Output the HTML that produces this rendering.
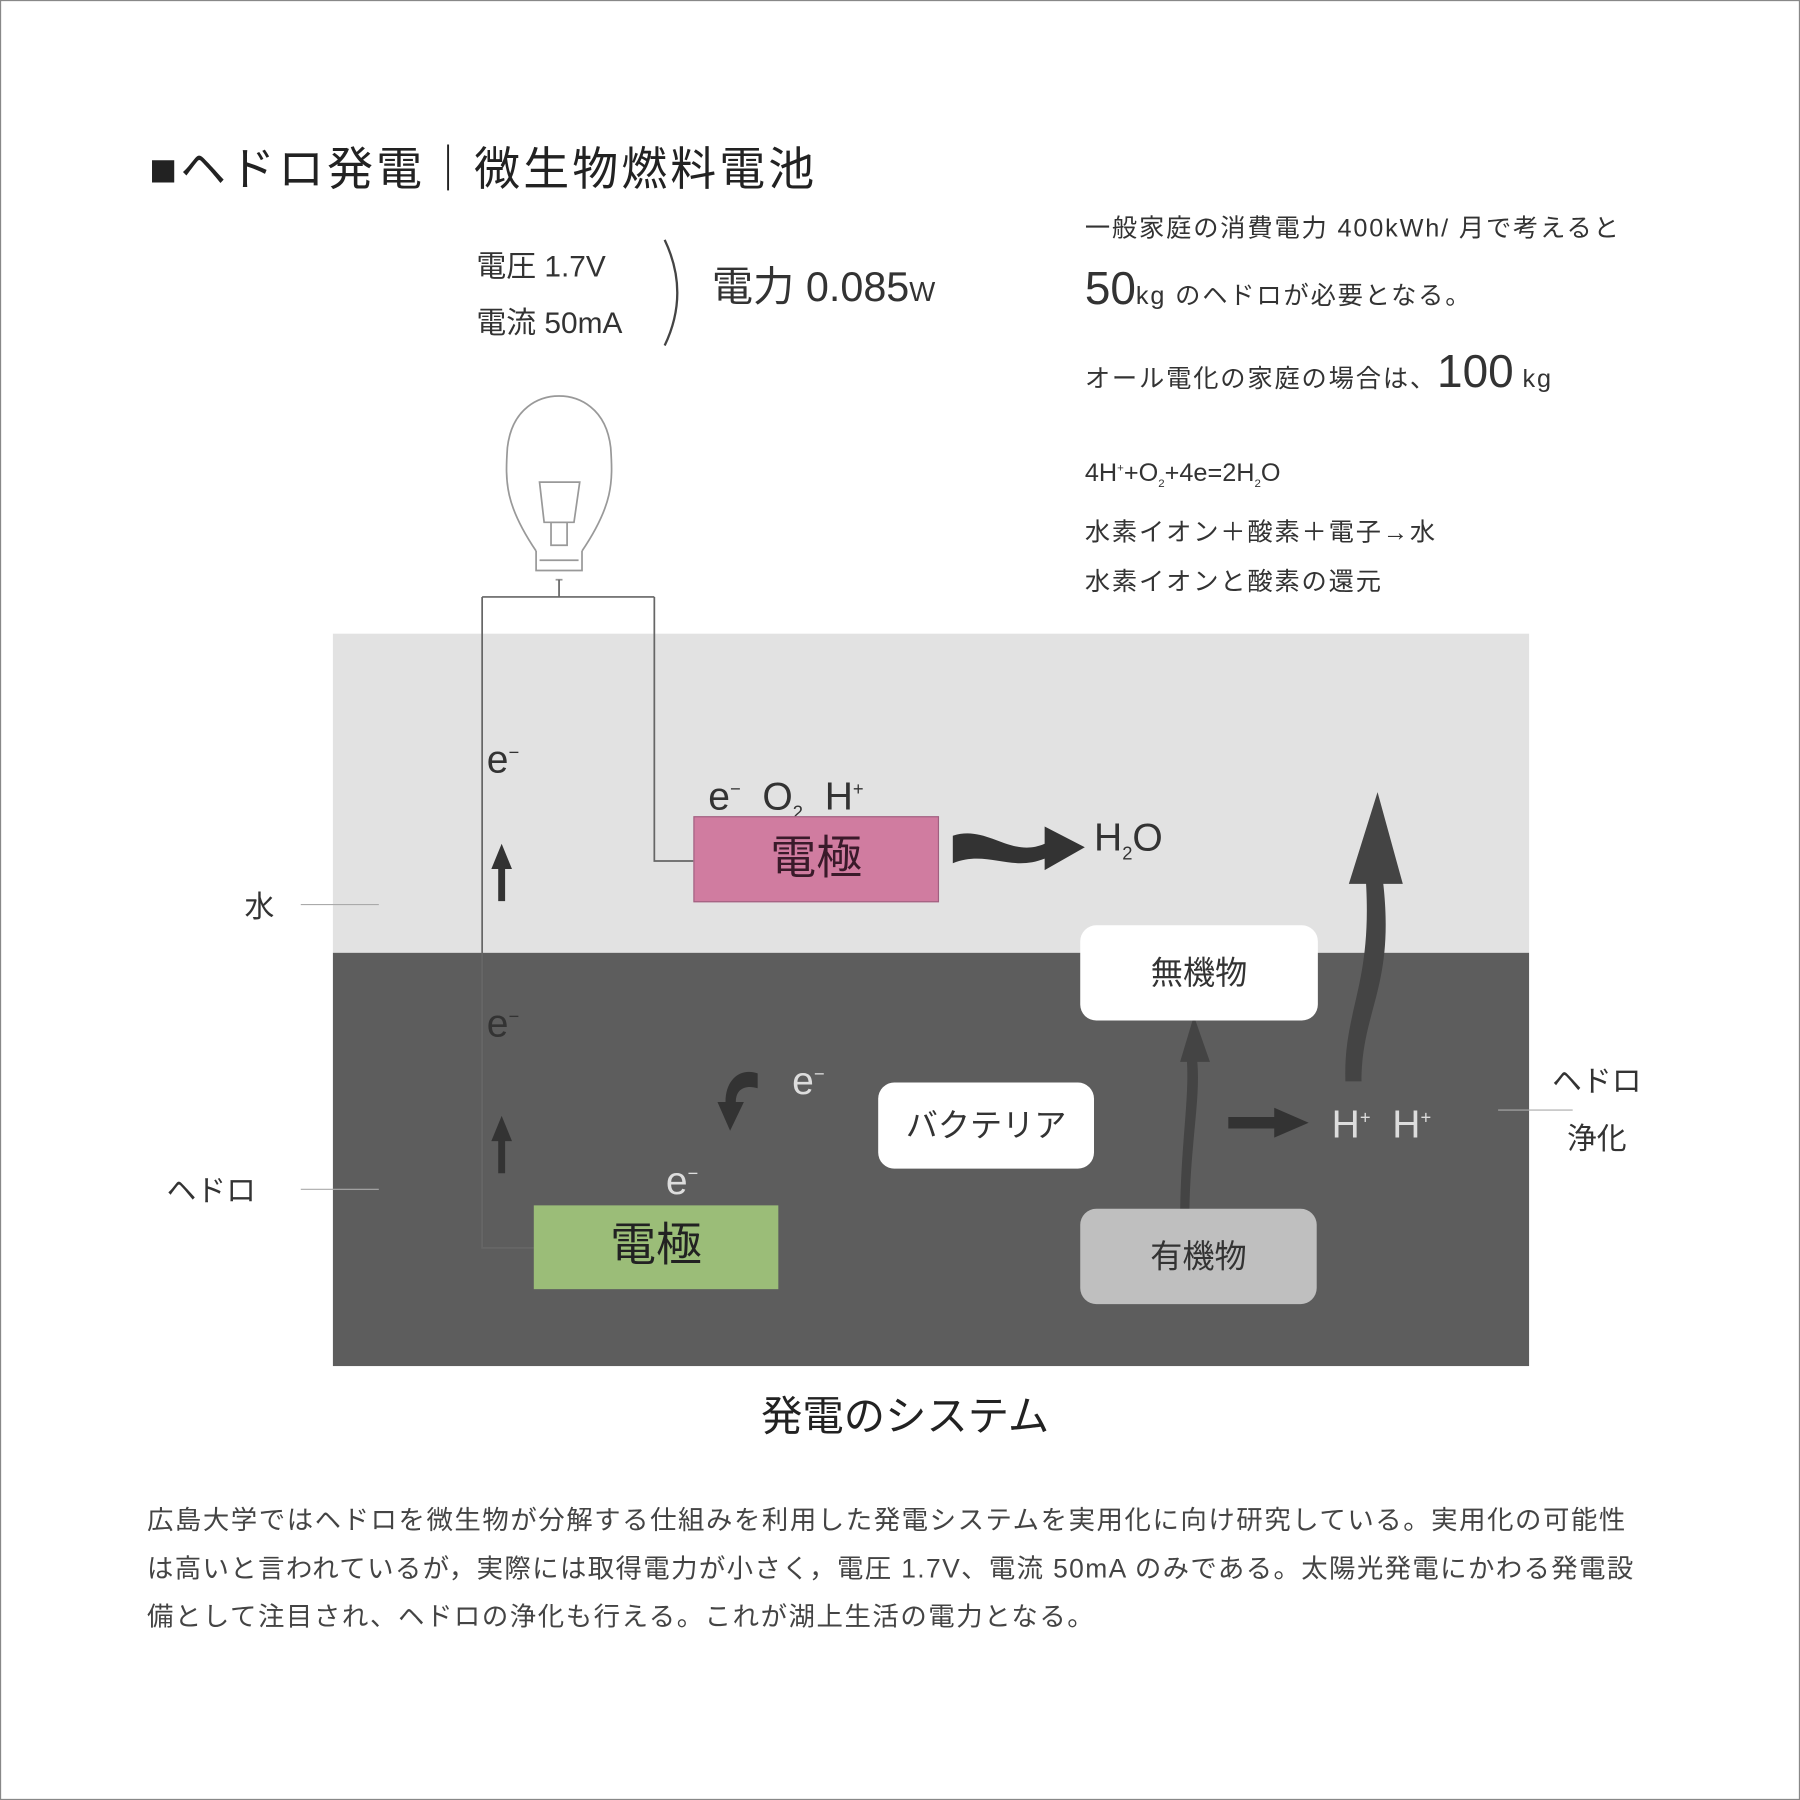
<!DOCTYPE html>
<html><head><meta charset="utf-8"><style>
html,body{margin:0;padding:0;background:#fff;}
#w{width:1568px;height:1568px;transform:scale(1.147959);transform-origin:0 0;position:relative;overflow:hidden;font-family:"Liberation Sans","Noto Sans CJK JP",sans-serif;color:#333;}
.a{position:absolute;white-space:nowrap;line-height:1;}
.r{letter-spacing:1.6px;}
</style></head><body><div id="w">
<div class="a" style="left:0;top:0;width:1566px;height:1566px;border:1px solid #888;"></div>
<div class="a" style="left:130px;top:128px;font-size:40px;color:#222;letter-spacing:2.7px;">■ヘドロ発電｜微生物燃料電池</div>
<div class="a" style="left:415px;top:219px;font-size:26px;">電圧 1.7V</div>
<div class="a" style="left:415px;top:268px;font-size:26px;">電流 50mA</div>
<svg class="a" style="left:575px;top:205px" width="30" height="100"><path d="M4 4 Q26 50 4 96" fill="none" stroke="#444" stroke-width="2"/></svg>
<div class="a" style="left:620px;top:232px;font-size:36px;">電力 0.085<span style="font-size:24px">W</span></div>
<div class="a r" style="left:945px;top:188px;font-size:22px;">一般家庭の消費電力 400kWh/ 月で考えると</div>
<div class="a r" style="left:945px;top:232px;font-size:22px;"><span style="font-size:40px;letter-spacing:0">50</span>kg のヘドロが必要となる。</div>
<div class="a r" style="left:945px;top:304px;font-size:22px;">オール電化の家庭の場合は、<span style="font-size:40px;letter-spacing:0">100</span> kg</div>
<div class="a" style="left:945px;top:401px;font-size:22px;">4H<sup style="font-size:10px">+</sup>+O<sub style="font-size:10px">2</sub>+4e=2H<sub style="font-size:10px">2</sub>O</div>
<div class="a r" style="left:945px;top:453px;font-size:22px;">水素イオン＋酸素＋電子→水</div>
<div class="a r" style="left:945px;top:496px;font-size:22px;">水素イオンと酸素の還元</div>
<div class="a" style="left:290px;top:552px;width:1042px;height:278px;background:#e2e2e2;"></div>
<div class="a" style="left:290px;top:830px;width:1042px;height:360px;background:#5d5d5d;"></div>
<svg class="a" style="left:0;top:0" width="1568" height="1568">
<g fill="none" stroke="#999" stroke-width="1.5">
<path d="M467 480 C440 440 440 420 442 390 C446 355 470 345 487 345 C504 345 528 355 532 390 C534 420 534 440 507 480"/>
<path d="M467 480 L467 497 L507 497 L507 480"/><path d="M470 488 L504 488"/>
<path d="M474 455 L470 420 L505 420 L500 455 Z"/><path d="M480 455 L494 455 L494 475 L480 475 Z"/>
<path d="M484 505 L490 505"/>
</g>
<g fill="none" stroke="#666" stroke-width="1.5">
<path d="M487 505 L487 520 M420 520 L570 520 M420 520 L420 1087 L465 1087 M570 520 L570 750 L604 750"/>
</g>
<g stroke="#aaa" stroke-width="1"><path d="M262 788 L330 788 M262 1036 L330 1036 M1305 967 L1370 967"/></g>
<g fill="#333">
<path d="M830 728 C860 718 880 748 910 735 L910 720 L945 738 L910 758 L910 748 C880 760 860 740 830 752 Z"/>
<path d="M1186 942 C1186 880 1215 860 1205 770 L1222 770 L1200 690 L1175 770 L1190 770 C1195 860 1170 880 1172 942 Z" fill="#444"/>
<path d="M1036 1065 C1036 1000 1046 960 1043 925 L1054 925 L1040 885 L1028 925 L1034 925 C1036 960 1028 1000 1028 1065 Z" fill="#444"/>
<path d="M1070 973 L1110 973 L1110 965 L1140 978 L1110 991 L1110 983 L1070 983 Z"/>
<path d="M434 785 L434 757 L428 757 L437 735 L446 757 L440 757 L440 785 Z"/>
<path d="M434 1022 L434 994 L428 994 L437 972 L446 994 L440 994 L440 1022 Z"/>
<path d="M660 935 C645 930 632 940 632 960 L625 960 L636 985 L648 960 L641 960 C641 948 650 945 660 948 Z"/>
</g>
</svg>
<div class="a" style="left:424px;top:645px;font-size:34px;">e<sup style="font-size:16px">−</sup></div>
<div class="a" style="left:424px;top:875px;font-size:34px;">e<sup style="font-size:16px">−</sup></div>
<div class="a" style="left:690px;top:925px;font-size:34px;color:#ddd;">e<sup style="font-size:16px">−</sup></div>
<div class="a" style="left:580px;top:1012px;font-size:34px;color:#ddd;">e<sup style="font-size:16px">−</sup></div>
<div class="a" style="left:617px;top:677px;font-size:34px;">e<sup style="font-size:16px">−</sup>&nbsp;&nbsp;O<sub style="font-size:16px">2</sub>&nbsp;&nbsp;H<sup style="font-size:16px">+</sup></div>
<div class="a" style="left:953px;top:713px;font-size:34px;">H<sub style="font-size:16px">2</sub>O</div>
<div class="a" style="left:1160px;top:963px;font-size:34px;color:#ddd;">H<sup style="font-size:16px">+</sup>&nbsp;&nbsp;H<sup style="font-size:16px">+</sup></div>
<div class="a" style="left:604px;top:711px;width:214px;height:75px;background:#d07ca0;border:1px solid #a06080;box-sizing:border-box;font-size:40px;color:#3a1a2a;text-align:center;line-height:72px;">電極</div>
<div class="a" style="left:465px;top:1050px;width:213px;height:73px;background:#9bbd78;box-sizing:border-box;font-size:40px;color:#222;text-align:center;line-height:70px;">電極</div>
<div class="a" style="left:941px;top:806px;width:207px;height:83px;background:#fff;border-radius:14px;font-size:28px;text-align:center;line-height:83px;">無機物</div>
<div class="a" style="left:765px;top:943px;width:188px;height:75px;background:#fff;border-radius:14px;font-size:28px;text-align:center;line-height:75px;">バクテリア</div>
<div class="a" style="left:941px;top:1053px;width:206px;height:83px;background:#bfbfbf;border-radius:14px;font-size:28px;text-align:center;line-height:83px;">有機物</div>
<div class="a" style="left:213px;top:777px;font-size:26px;">水</div>
<div class="a" style="left:145px;top:1024px;font-size:26px;">ヘドロ</div>
<div class="a" style="left:1352px;top:929px;font-size:26px;">ヘドロ</div>
<div class="a" style="left:1365px;top:979px;font-size:26px;">浄化</div>
<div class="a" style="left:663px;top:1216px;font-size:36px;color:#222;">発電のシステム</div>
<div class="a" style="left:128px;top:1313px;font-size:23px;color:#444;letter-spacing:1.35px;">広島大学ではヘドロを微生物が分解する仕組みを利用した発電システムを実用化に向け研究している。実用化の可能性</div>
<div class="a" style="left:128px;top:1355px;font-size:23px;color:#444;letter-spacing:1.2px;">は高いと言われているが，実際には取得電力が小さく，電圧 1.7V、電流 50mA のみである。太陽光発電にかわる発電設</div>
<div class="a" style="left:128px;top:1397px;font-size:23px;color:#444;letter-spacing:1.35px;">備として注目され、ヘドロの浄化も行える。これが湖上生活の電力となる。</div>
</div></body></html>
